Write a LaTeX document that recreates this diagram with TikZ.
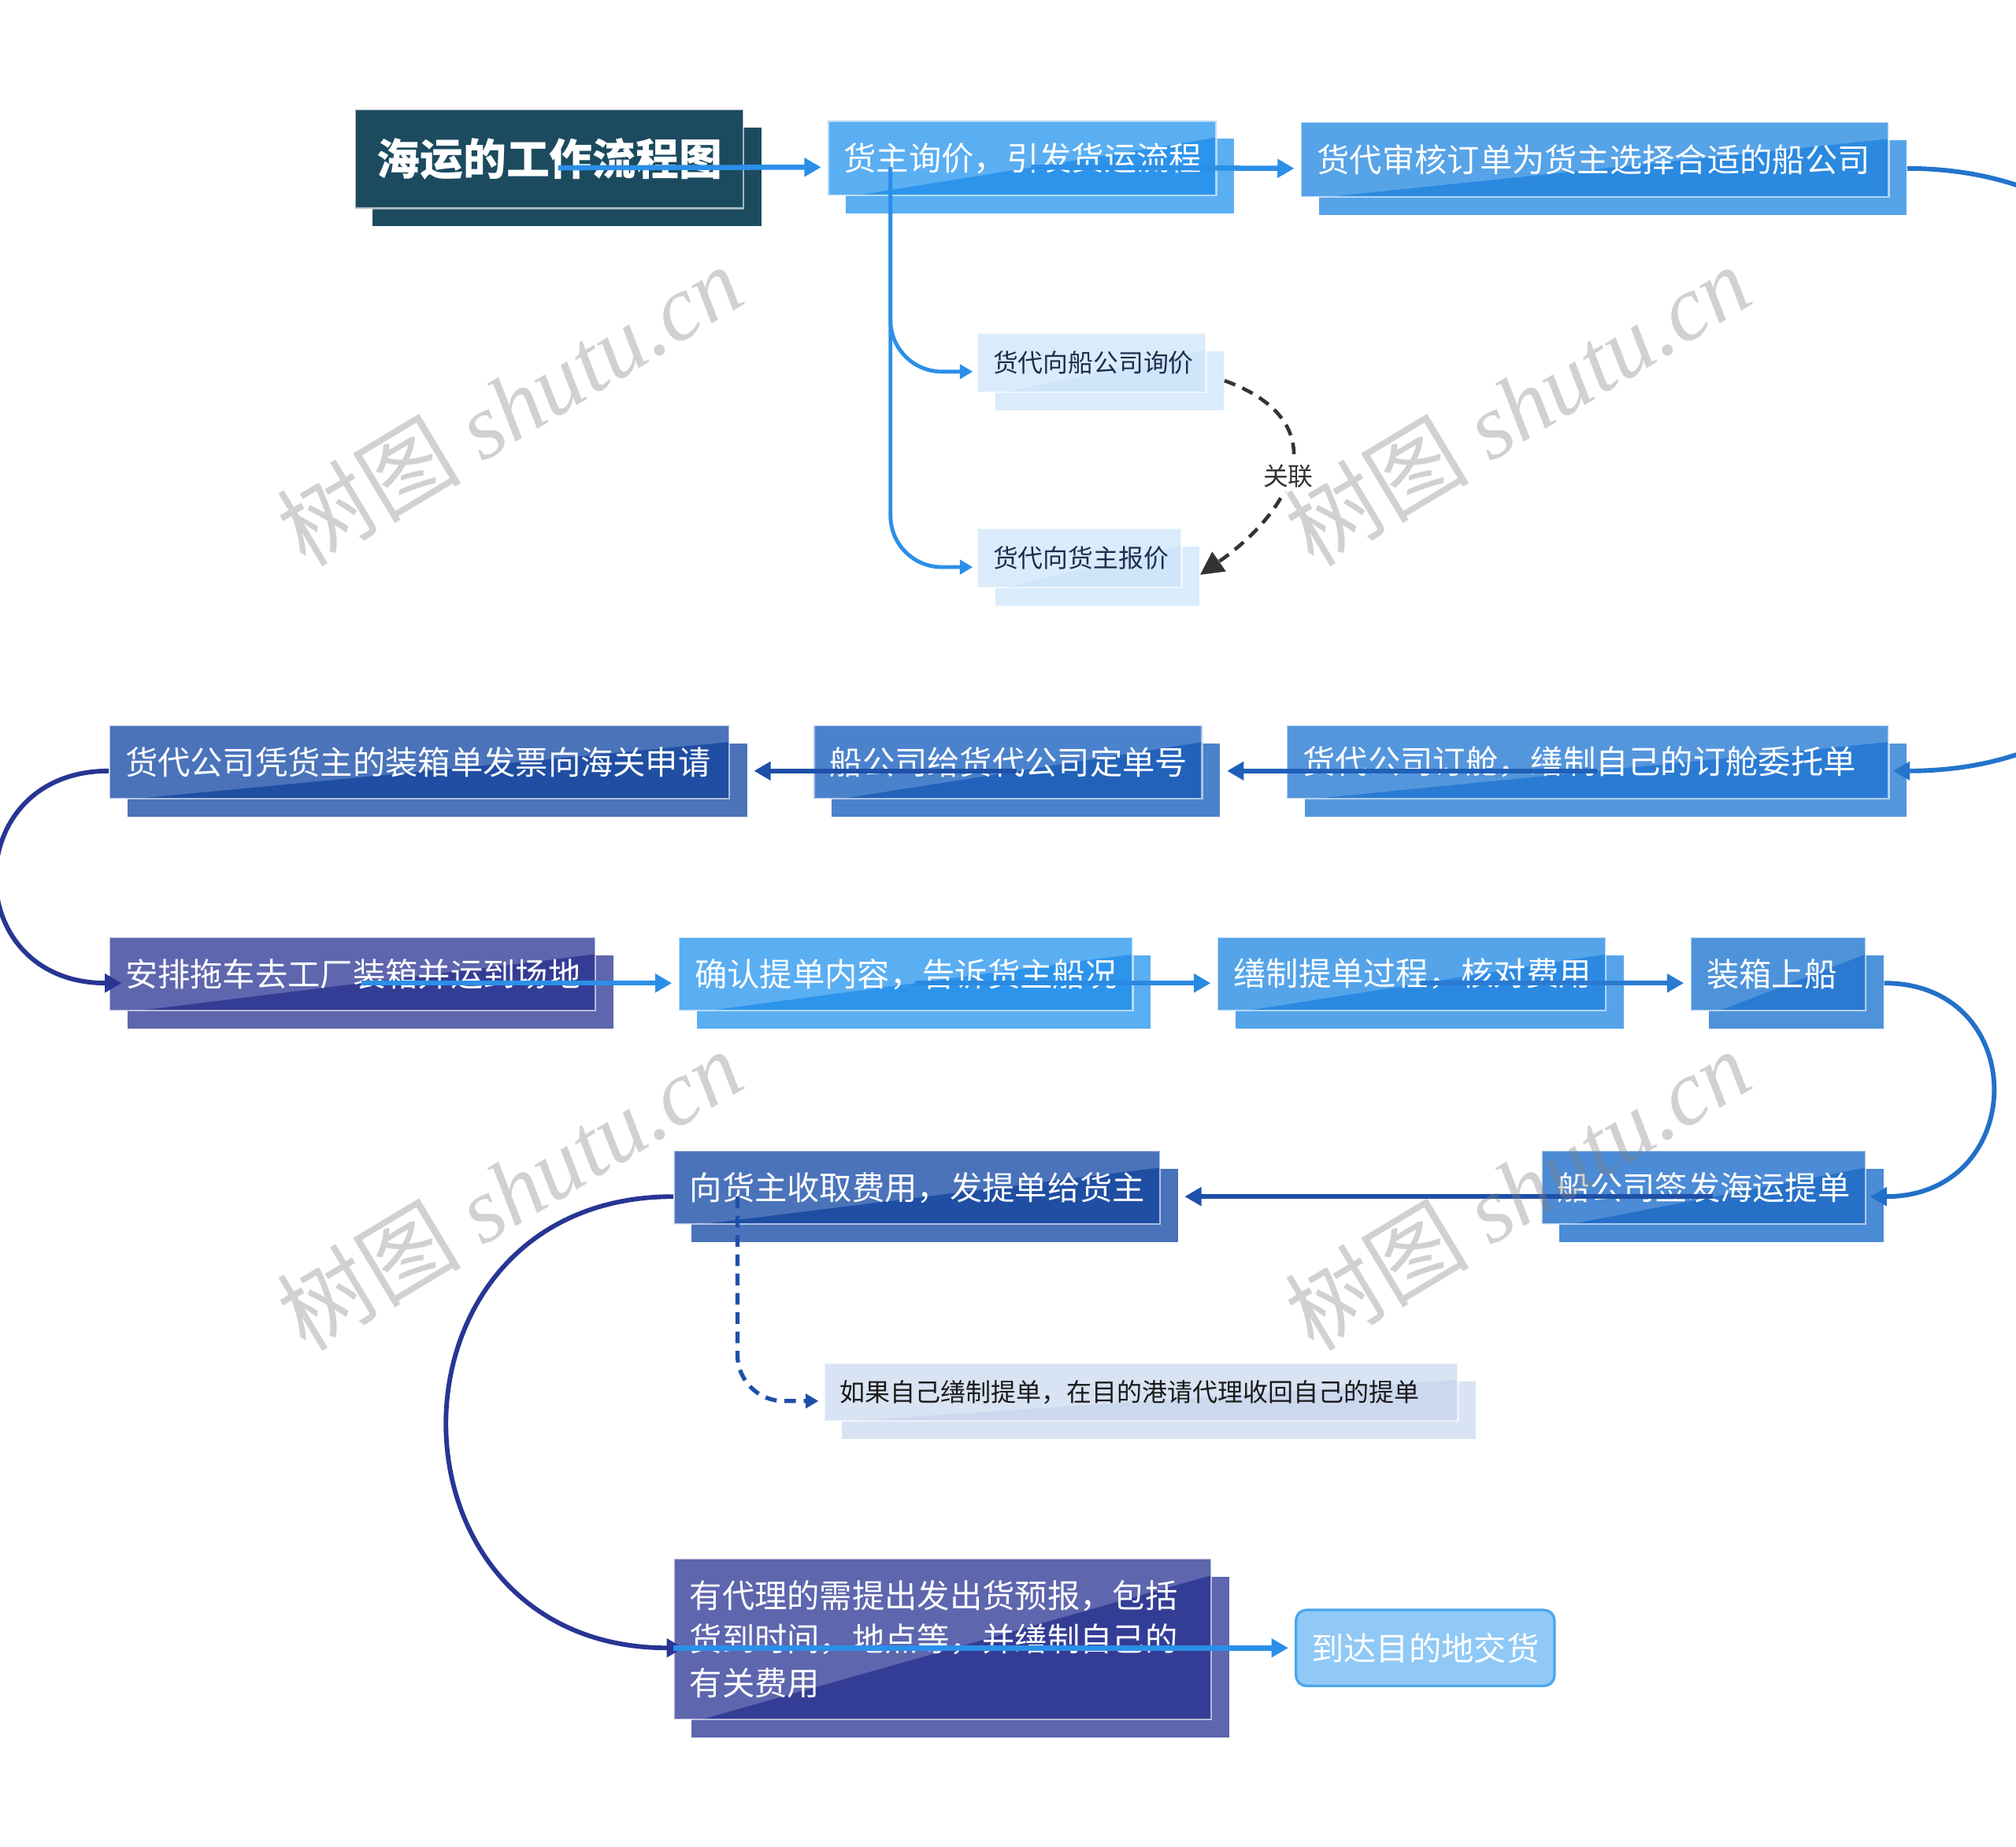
\documentclass[tikz,border=0pt]{standalone}
\usepackage{fontspec}
\newfontfamily\cjk{Noto Sans CJK SC}
\newfontfamily\wmserif{Liberation Serif}
\usetikzlibrary{arrows.meta,fit}

\definecolor{titlebg}{HTML}{1C4B60}
\definecolor{aLight}{HTML}{5AAEF2}\definecolor{aDark}{HTML}{2D94EC}
\definecolor{bLight}{HTML}{56A3E8}\definecolor{bDark}{HTML}{2B89E0}
\definecolor{subLight}{HTML}{DAEBFB}\definecolor{subDark}{HTML}{CFE5FA}
\definecolor{subText}{HTML}{1E2D4D}
\definecolor{cLight}{HTML}{5496DC}\definecolor{cDark}{HTML}{2A7BD4}
\definecolor{dLight}{HTML}{4B82CC}\definecolor{dDark}{HTML}{2262BA}
\definecolor{eLight}{HTML}{4A73BA}\definecolor{eDark}{HTML}{1F4EA3}
\definecolor{fLight}{HTML}{5E66AE}\definecolor{fDark}{HTML}{343D95}
\definecolor{hLight}{HTML}{55A4EA}\definecolor{hDark}{HTML}{2B89E1}
\definecolor{iLight}{HTML}{4E93DA}\definecolor{iDark}{HTML}{2A7AD2}
\definecolor{jLight}{HTML}{4C8BD5}\definecolor{jDark}{HTML}{2670C8}
\definecolor{lLight}{HTML}{D8E3F3}\definecolor{lDark}{HTML}{CBD8EE}
\definecolor{nFill}{HTML}{90C9F6}\definecolor{nEdge}{HTML}{4BA6EC}
\definecolor{lnA}{HTML}{2B8FE8}
\definecolor{lnB}{HTML}{2374CC}
\definecolor{lnC}{HTML}{1F60B9}
\definecolor{lnD}{HTML}{1E50A8}
\definecolor{lnE}{HTML}{283593}
\definecolor{lnG}{HTML}{2A89E2}
\definecolor{lnH}{HTML}{2A7AD2}
\definecolor{lnI}{HTML}{2270C8}
\definecolor{relcol}{HTML}{333333}

\tikzset{
  boxlabel/.style={font=\cjk\fontsize{12.65pt}{17pt}\selectfont, text=white, inner sep=0pt},
  sublabel/.style={font=\cjk\fontsize{9.75pt}{12pt}\selectfont, text=subText, inner sep=0pt},
  darksublabel/.style={font=\cjk\fontsize{9.8pt}{12pt}\selectfont, text=black!90, inner sep=0pt},
  titlelabel/.style={font=\cjk\bfseries\fontsize{16.8pt}{20pt}\selectfont, text=white, inner sep=0pt},
  hitbox/.style={inner sep=0pt, draw=none},
  mainedge/.style={draw=white, draw opacity=0.6, line width=0.7pt},
  flow/.style={line width=2pt, -{Triangle[length=6.5pt,width=7pt]}, shorten >=2.5pt},
  curveflow/.style={line width=1.8pt, -{Triangle[length=6.5pt,width=7pt]}},
  branch/.style={line width=1.5pt, rounded corners=20pt, -{Triangle[length=5pt,width=5.5pt]}, shorten >=1.5pt},
  dashbranch/.style={line width=1.6pt, rounded corners=18pt, dash pattern=on 4.5pt off 3pt, -{Triangle[length=5pt,width=5.5pt]}, shorten >=2pt},
  relarrow/.style={relcol, line width=1.4pt, dash pattern=on 4.5pt off 3pt, -{Triangle[length=9pt,width=9pt]}},
  rellabel/.style={font=\cjk\fontsize{9.75pt}{12pt}\selectfont, text=relcol, fill=white, inner sep=1.5pt},
  watermark/.style={text=gray, opacity=0.36, inner sep=0pt}
}

% #1 name, #2 x1, #3 y1, #4 x2, #5 y2, #6 light, #7 dark, #8 label style, #9 text
\newcommand\flowbox[9]{%
  \fill[#6] ({#2+14},{#3+14}) rectangle ({#4+14},{#5+14});
  \fill[#7] (#2,#3) rectangle (#4,#5);
  \fill[#6] (#2,#3) -- (#4,#3) -- (#4,{#3+13}) -- ({#2+22},#5) -- (#2,#5) -- cycle;
  \draw[mainedge] (#2,#3) rectangle (#4,#5);
  \node[hitbox, fit={(#2,#3) ({#4+14},{#5+14})}] (#1) {};
  \node[#8, anchor=west] (#1-t) at ({#2+12},{(#3+#5)/2}) {#9};
}

\begin{document}
\begin{tikzpicture}[x=0.5pt,y=-0.5pt]
\useasboundingbox (0,0) rectangle (1568,1436);

% title
\fill[titlebg] (290,99) rectangle (592,176);
\fill[titlebg] (276,85) rectangle (578,162);
\draw[mainedge] (276,85) rectangle (578,162);
\node[hitbox, fit={(276,85) (592,176)}] (title) {};
\node[titlelabel] (title-t) at (427.5,123.5) {海运的工作流程图};

\flowbox{A}{644}{94}{946}{152}{aLight}{aDark}{boxlabel}{货主询价，引发货运流程}
\flowbox{B}{1012}{95}{1469}{153}{bLight}{bDark}{boxlabel}{货代审核订单为货主选择合适的船公司}
\flowbox{A1}{760}{259}{938}{305}{subLight}{subDark}{sublabel}{货代向船公司询价}
\flowbox{A2}{760}{411}{919}{457}{subLight}{subDark}{sublabel}{货代向货主报价}

\flowbox{C}{1001}{564}{1469}{621}{cLight}{cDark}{boxlabel}{货代公司订舱，缮制自己的订舱委托单}
\flowbox{D}{633}{564}{935}{621}{dLight}{dDark}{boxlabel}{船公司给货代公司定单号}
\flowbox{E}{85}{564}{567}{621}{eLight}{eDark}{boxlabel}{货代公司凭货主的装箱单发票向海关申请}

\flowbox{F}{85}{729}{463}{786}{fLight}{fDark}{boxlabel}{安排拖车去工厂装箱并运到场地}
\flowbox{G}{528}{729}{881}{786}{aLight}{aDark}{boxlabel}{确认提单内容，告诉货主船况}
\flowbox{H}{947}{729}{1249}{786}{hLight}{hDark}{boxlabel}{缮制提单过程，核对费用}
\flowbox{I}{1315}{729}{1451}{786}{iLight}{iDark}{boxlabel}{装箱上船}

\flowbox{J}{1199}{895}{1451}{952}{jLight}{jDark}{boxlabel}{船公司签发海运提单}
\flowbox{K}{524}{895}{902}{952}{eLight}{eDark}{boxlabel}{向货主收取费用，发提单给货主}
\flowbox{L}{641}{1060}{1134}{1105}{lLight}{lDark}{darksublabel}{如果自己缮制提单，在目的港请代理收回自己的提单}

\flowbox{M}{524}{1212}{942}{1337}{fLight}{fDark}{boxlabel, align=left}{有代理的需提出发出货预报，包括\\货到时间，地点等，并缮制自己的\\有关费用}
\node[boxlabel, draw=nEdge, fill=nFill, line width=1pt, rounded corners=4pt,
      minimum width=100.5pt, minimum height=29.5pt] (N) at (1108.5,1281.5) {到达目的地交货};

% connectors
\draw[flow, lnA] (title.center) -- (A.west);
\draw[flow, lnA] (A.center) -- (B.west);
\draw[branch, lnA] ([xshift=24.5pt]A.west) |- (A1.west);
\draw[branch, lnA] ([xshift=24.5pt]A.west) |- (A2.west);
\draw[relarrow] ([yshift=-3.5pt]A1.east) to[out=-20,in=35,looseness=1.55]
   node[rellabel, pos=0.54] (rel) {关联} ([yshift=-3pt]A2.east);
\draw[curveflow, lnB] (B.east) .. controls +(317,0) and +(328,0) .. ([xshift=-5.5pt]C.east);
\draw[flow, lnC] (C.center) -- (D.east);
\draw[flow, lnD] (D.center) -- (E.east);
\draw[curveflow, lnE] (E.west) .. controls +(-117,0) and +(-127,0) .. ([xshift=5pt]F.west);
\draw[flow, lnA] (F.center) -- (G.west);
\draw[flow, lnG] (G.center) -- (H.west);
\draw[flow, lnH] (H.center) -- (I.west);
\draw[curveflow, lnI] (I.east) .. controls +(115,0) and +(124,0) .. ([xshift=-5.5pt]J.east);
\draw[flow, lnD] (J.center) -- (K.east);
\draw[dashbranch, lnD] ([xshift=25pt]K.west) |- (L.west);
\draw[curveflow, lnE] (K.west) .. controls +(-235,0) and +(-243,0) .. ([xshift=4pt]M.west);
\draw[flow, lnA] (M.west) -- (N.west);

% watermarks
\foreach \wx/\wy/\wn in {396/315/1, 1180/315/2, 396/925/3, 1180/925/4}{
  \node[watermark, rotate=31] (wm\wn) at (\wx,\wy)
    {\cjk\fontsize{36pt}{38pt}\selectfont 树图 \wmserif\itshape shutu.cn};
}
\end{tikzpicture}
\end{document}
